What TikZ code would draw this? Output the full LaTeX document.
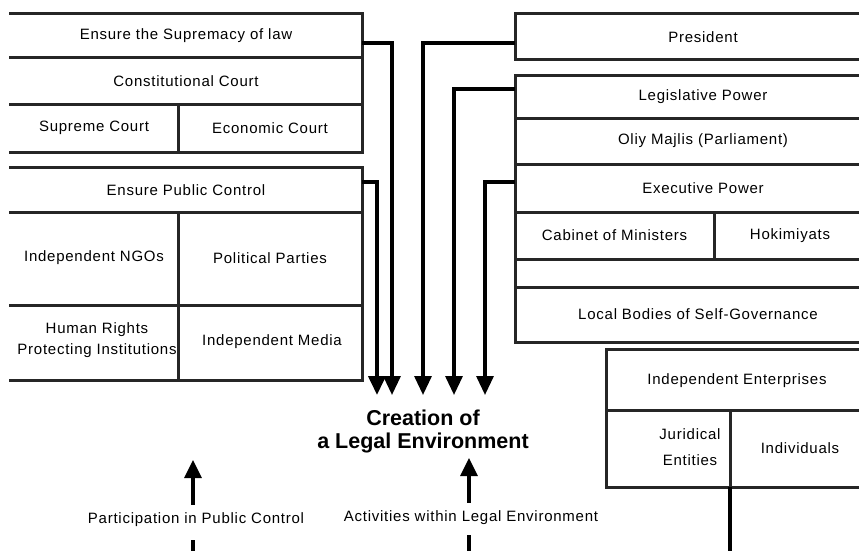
\documentclass[tikz,border=0pt]{standalone}
\usepackage{fontspec}
\setmainfont{Liberation Sans}
\usetikzlibrary{arrows.meta}
\begin{document}
\begin{tikzpicture}[x=1pt,y=-1pt,
  edge/.style={draw=black!85, line width=3pt, line cap=rect},
  cell/.style={inner sep=0pt, align=center, font=\fontsize{15}{21}\selectfont\addfontfeature{LetterSpace=5}},
  bigtxt/.style={inner sep=0pt, align=center, font=\fontsize{21.5}{23}\selectfont\bfseries},
  conn/.style={draw=black, line width=3.2pt, -{Triangle[width=17pt,length=19pt]}},
  uparr/.style={draw=black, line width=3.2pt, -{Triangle[width=17pt,length=18pt]}},
  plain/.style={draw=black, line width=3.2pt}
]
\useasboundingbox (0,0) rectangle (859,551);

% ---------- left group 1 ----------
\node[cell, minimum width=352pt, minimum height=44pt] (sup) at (186,36) {Ensure the Supremacy of law};
\node[cell, minimum width=352pt, minimum height=46pt] (con) at (186,81) {Constitutional Court};
\node[cell, minimum width=168pt, minimum height=48pt] (supc) at (94,128) {Supreme Court};
\node[cell, minimum width=184pt, minimum height=48pt] (eco) at (270,128) {Economic Court};
\draw[edge] (10,14) -- (362,14) -- (362,152) -- (10,152);
\draw[edge] (10,58) -- (362,58);
\draw[edge] (10,104) -- (362,104);
\draw[edge] (178,104) -- (178,152);

% ---------- left group 2 ----------
\node[cell, minimum width=352pt, minimum height=45pt] (epc) at (186,190) {Ensure Public Control};
\node[cell, minimum width=168pt, minimum height=93pt] (ngo) at (94,258) {Independent NGOs};
\node[cell, minimum width=184pt, minimum height=93pt] (pol) at (270,258) {Political Parties};
\node[cell, minimum width=168pt, minimum height=75pt] (hr) at (97,340) {Human Rights\\Protecting Institutions};
\node[cell, minimum width=184pt, minimum height=75pt] (med) at (272,342) {Independent Media};
\draw[edge] (10,167) -- (362,167) -- (362,380) -- (10,380);
\draw[edge] (10,212) -- (362,212);
\draw[edge] (10,305) -- (362,305);
\draw[edge] (178,212) -- (178,380);

% ---------- right group ----------
\node[cell, minimum width=376pt, minimum height=46pt] (pres) at (703,37) {President};
\node[cell, minimum width=376pt, minimum height=43pt] (leg) at (703,96.5) {Legislative Power};
\node[cell, minimum width=376pt, minimum height=46pt] (oliy) at (703,141) {Oliy Majlis (Parliament)};
\node[cell, minimum width=376pt, minimum height=48pt] (exe) at (703,188) {Executive Power};
\node[cell, minimum width=199pt, minimum height=47pt] (cab) at (614.5,235.5) {Cabinet of Ministers};
\node[cell, minimum width=152pt, minimum height=47pt] (hok) at (790,235.5) {Hokimiyats};
\node[cell, minimum width=376pt, minimum height=55pt] (loc) at (698,314.5) {Local Bodies of Self-Governance};
\draw[edge] (859,14) -- (515,14) -- (515,60) -- (859,60);
\draw[edge] (859,75) -- (515,75) -- (515,342) -- (859,342);
\draw[edge] (515,118) -- (859,118);
\draw[edge] (515,164) -- (859,164);
\draw[edge] (515,212) -- (859,212);
\draw[edge] (515,259) -- (859,259);
\draw[edge] (515,287) -- (859,287);
\draw[edge] (714,212) -- (714,259);

% ---------- enterprises ----------
\node[cell, minimum width=253pt, minimum height=61pt] (ient) at (737,381) {Independent Enterprises};
\node[cell, minimum width=124pt, minimum height=77pt] (jur) at (690,447.5) {Juridical\\[5pt]Entities};
\node[cell, minimum width=129pt, minimum height=77pt] (ind) at (800,448.5) {Individuals};
\draw[edge] (859,349) -- (606,349) -- (606,487) -- (859,487);
\draw[edge] (606,410) -- (859,410);
\draw[edge] (730,410) -- (730,487);
\coordinate (vb) at (730,551);
\draw[plain] (730,487) -- (vb);

% ---------- centre ----------
\node[bigtxt] (cre) at (423,431) {Creation of\\a Legal Environment};
\coordinate (t1) at (392,395);
\coordinate (t2) at (377,395);
\coordinate (t3) at (423,395);
\coordinate (t4) at (454,395);
\coordinate (t5) at (485,395);
\draw[conn] ([yshift=-7pt]sup.east) -| (t1);
\draw[conn, line width=4pt] ([yshift=8pt]epc.east) -| (t2);
\draw[conn] ([yshift=-6pt]pres.west) -| (t3);
\draw[conn] ([yshift=7.5pt]leg.west) -| (t4);
\draw[conn] ([yshift=6pt]exe.west) -| (t5);

% ---------- bottom ----------
\node[cell, minimum height=30pt] (plab) at (196,520) {Participation in Public Control};
\node[cell, minimum height=30pt] (alab) at (471,518) {Activities within Legal Environment};
\coordinate (pb) at (193,551);
\coordinate (ab) at (469,551);
\coordinate (ptip) at (193,460);
\coordinate (atip) at (469,458);
\draw[uparr] (pb |- plab.north) -- (ptip);
\draw[plain] (pb |- plab.south) ++(0,5) -- (pb);
\draw[uparr] (ab |- alab.north) -- (atip);
\draw[plain] (ab |- alab.south) ++(0,2) -- (ab);
\end{tikzpicture}
\end{document}
